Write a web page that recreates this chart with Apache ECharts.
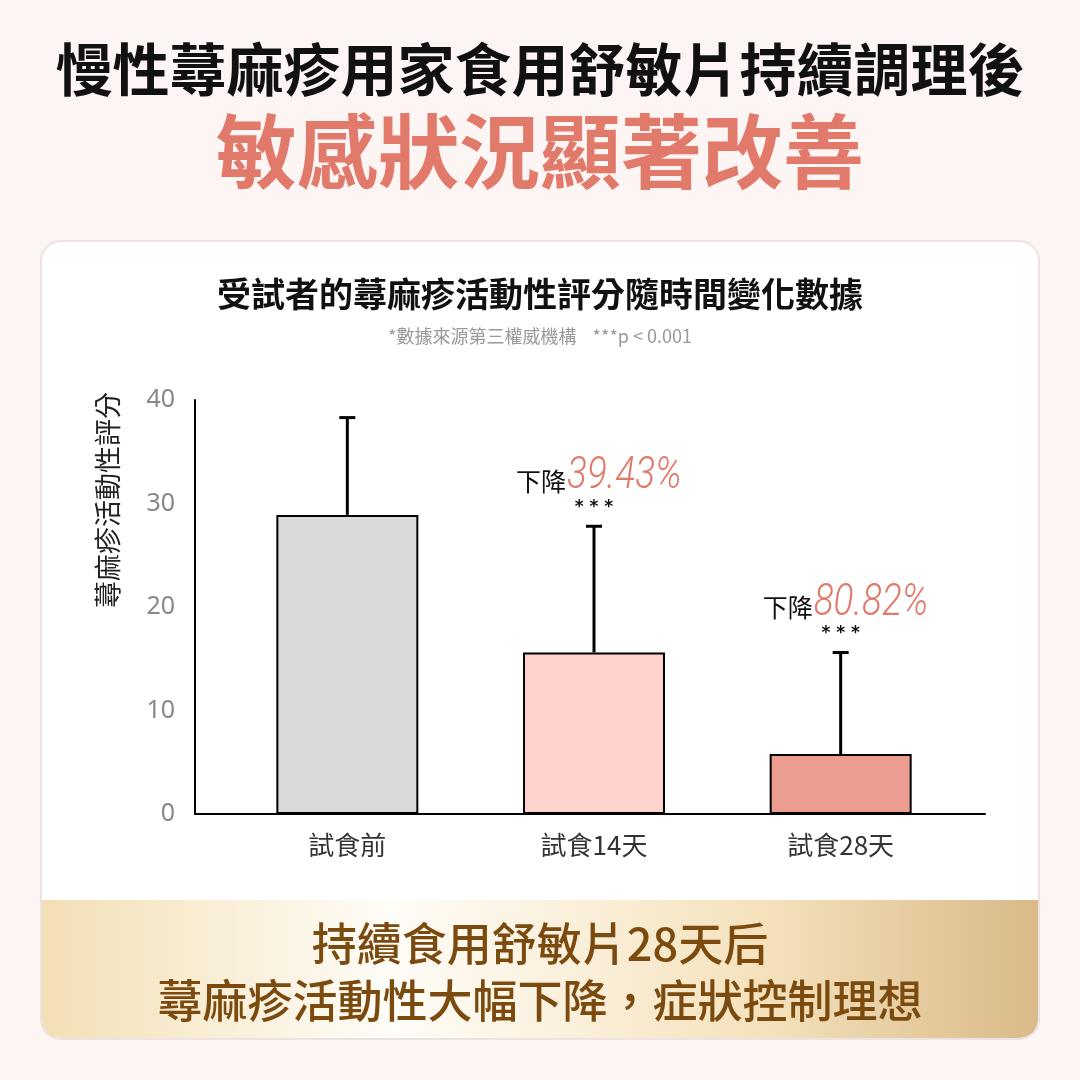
<!DOCTYPE html>
<html>
<head>
<meta charset="utf-8">
<script src="https://cdn.jsdelivr.net/npm/echarts@6/dist/echarts.min.js"></script>
<style>
  html, body { margin: 0; padding: 0; background: #fdf5f3; }
  #chart { width: 1080px; height: 1080px; }
</style>
</head>
<body>
<div id="chart"></div>
<script>
// 數據
const categories = ['試食前', '試食14天', '試食28天'];
const means = [28.9, 15.6, 5.8];
const errHigh = [38.3, 27.8, 15.6];
const dropText = ['', '39.43%', '80.82%'];
const sigText = ['', '* * *', '* * *'];
const barColors = ['#d9d9d9', '#ffd3cd', '#eb9d91'];
const yTicks = [0, 10, 20, 30, 40];

const CJK = '"Noto Sans CJK TC", "Noto Sans CJK SC", sans-serif';

const myChart = echarts.init(document.getElementById('chart'));

const option = {
    backgroundColor: '#fdf5f3',
    animation: false,
    title: [{
        text: '慢性蕁麻疹用家食用舒敏片持續調理後',
        left: 'center',
        top: 36,
        textStyle: { fontFamily: CJK, fontSize: 57, fontWeight: 'bold', color: '#111' }
    }, {
        text: '敏感狀況顯著改善',
        left: 'center',
        top: 106,
        textStyle: { fontFamily: CJK, fontSize: 81, fontWeight: 'bold', color: '#e27a6b' }
    }, {
        text: '受試者的蕁麻疹活動性評分隨時間變化數據',
        subtext: '*數據來源第三權威機構    ***p < 0.001',
        left: 'center',
        top: 272,
        itemGap: 16,
        textStyle: { fontFamily: CJK, fontSize: 34, fontWeight: 'bold', color: '#111' },
        subtextStyle: { fontFamily: CJK, fontSize: 18, color: '#999' }
    }],
    graphic: [{
        type: 'rect', z: -10,
        shape: { x: 41, y: 241, width: 998, height: 798, r: 20 },
        style: { fill: '#fff', stroke: '#ece2e2', lineWidth: 2 }
    }, {
        type: 'rect', z: -9,
        shape: { x: 42, y: 900, width: 996, height: 138, r: [0, 0, 19, 19] },
        style: {
            fill: new echarts.graphic.LinearGradient(0, 0, 1, 0, [
                { offset: 0, color: '#f3dfb5' },
                { offset: 0.35, color: '#fffdf8' },
                { offset: 0.72, color: '#f5e2bd' },
                { offset: 1, color: '#d9ba88' }
            ])
        }
    }, {
        type: 'text', z: 10,
        x: 540, y: 972,
        style: {
            text: '持續食用舒敏片28天后\n蕁麻疹活動性大幅下降，症狀控制理想',
            align: 'center', verticalAlign: 'middle',
            font: '500 45px ' + CJK,
            lineHeight: 57,
            fill: '#7b4a0e'
        }
    }, {
        type: 'text', z: 10,
        x: 108, y: 500, rotation: Math.PI / 2,
        style: {
            text: '蕁麻疹活動性評分',
            align: 'center', verticalAlign: 'middle',
            font: '27px ' + CJK,
            fill: '#222'
        }
    }],
    grid: [
        // 坐標軸線
        { left: 195, right: 95, top: 400, bottom: 266 },
        // 柱子
        { left: 224, right: 116, top: 400, bottom: 266 }
    ],
    xAxis: [{
        gridIndex: 0, type: 'value', min: 0, max: 1,
        axisLine: { show: true, lineStyle: { color: '#000', width: 2 } },
        axisTick: { show: false }, axisLabel: { show: false }, splitLine: { show: false }
    }, {
        gridIndex: 1, type: 'category', data: categories,
        axisLine: { show: false }, axisTick: { show: false },
        axisLabel: { fontFamily: CJK, fontSize: 26, color: '#333', margin: 18 }
    }],
    yAxis: [{
        gridIndex: 0, type: 'value', min: yTicks[0], max: yTicks[yTicks.length - 1], interval: 10,
        axisLine: { show: true, lineStyle: { color: '#000', width: 2 } },
        axisTick: { show: false },
        splitLine: { show: false },
        axisLabel: { fontFamily: '"Noto Sans", sans-serif', fontSize: 25, color: '#888', margin: 20 }
    }, {
        gridIndex: 1, type: 'value', min: 0, max: 40, show: false
    }],
    series: [{
        type: 'bar',
        xAxisIndex: 1, yAxisIndex: 1,
        barWidth: 142,
        data: means.map((v, i) => ({
            value: v,
            itemStyle: { color: barColors[i], borderColor: '#000', borderWidth: 2 }
        }))
    }, {
        type: 'custom',
        xAxisIndex: 1, yAxisIndex: 1,
        z: 5,
        data: means.map((v, i) => [i, v, errHigh[i]]),
        renderItem: function (params, api) {
            const idx = params.dataIndex;
            const base = api.coord([api.value(0), api.value(1)]);
            const top = api.coord([api.value(0), api.value(2)]);
            const lineStyle = { stroke: '#000', lineWidth: 3 };
            const children = [{
                type: 'line',
                shape: { x1: base[0], y1: base[1], x2: top[0], y2: top[1] },
                style: lineStyle
            }, {
                type: 'line',
                shape: { x1: top[0] - 8, y1: top[1], x2: top[0] + 8, y2: top[1] },
                style: lineStyle
            }];
            if (dropText[idx]) {
                children.push({
                    type: 'text',
                    x: top[0] - 28, y: top[1] - 45,
                    style: {
                        text: '下降',
                        align: 'right', verticalAlign: 'middle',
                        font: '25px ' + CJK,
                        fill: '#111'
                    }
                });
                children.push({
                    type: 'text',
                    x: top[0] - 27, y: top[1] - 49,
                    scaleX: 0.84,
                    style: {
                        text: dropText[idx],
                        align: 'left', verticalAlign: 'middle',
                        font: 'italic 300 44px Roboto, sans-serif',
                        fill: '#e27a6b'
                    }
                });
                children.push({
                    type: 'text',
                    x: top[0], y: top[1] - 19,
                    style: {
                        text: sigText[idx],
                        align: 'center', verticalAlign: 'middle',
                        font: 'bold 17px "DejaVu Sans", sans-serif',
                        fill: '#111'
                    }
                });
            }
            return { type: 'group', children: children };
        }
    }]
};

option && myChart.setOption(option);
</script>
</body>
</html>
